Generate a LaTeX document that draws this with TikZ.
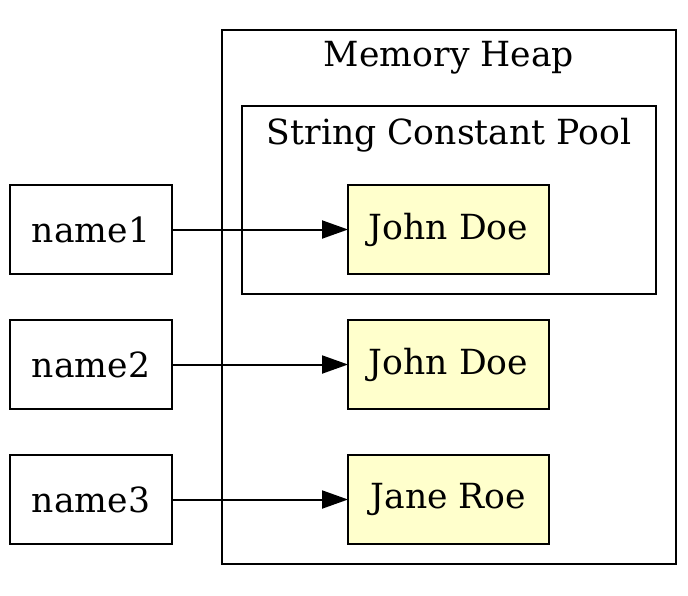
\documentclass[tikz,border=0pt]{standalone}
\usepackage{fontspec}
\setmainfont{DejaVu Serif}
\usetikzlibrary{arrows.meta}
\definecolor{poolyellow}{HTML}{FFFFCC}

\begin{document}
\begin{tikzpicture}[x=0.5pt,y=-0.5pt]
  \tikzset{VarStyle/.style = {
    shape         = rectangle,
    draw          = black,
    fill          = white,
    line width    = 1pt,
    text          = black,
    inner sep     = 0pt,
    outer sep     = 0pt,
    minimum width = 81pt,
    minimum height= 44.5pt,
    font          = \fontsize{17.3}{20}\selectfont
    }
  }
  \tikzset{StringStyle/.style = {
    VarStyle,
    fill          = poolyellow,
    minimum width = 100.5pt
    }
  }
  \tikzset{ClusterStyle/.style = {
    shape         = rectangle,
    draw          = black,
    line width    = 1pt,
    inner sep     = 0pt,
    outer sep     = 0pt
    }
  }
  \tikzset{ClusterLabelStyle/.style = {
    inner sep     = 0pt,
    font          = \fontsize{17.3}{20}\selectfont
    }
  }
  \tikzset{RefStyle/.style = {
    draw          = black,
    line width    = 1pt,
    -{Triangle[length=13pt,width=9pt]}
    }
  }

  \useasboundingbox (0,0) rectangle (688,595);

  % clusters
  \node[ClusterStyle, minimum width=227pt, minimum height=267pt](Heap) at (449, 297) {};
  \node[ClusterLabelStyle](HeapLabel) at (449, 58) {Memory Heap};
  \node[ClusterStyle, minimum width=207pt, minimum height=94pt](Pool) at (449, 200) {};
  \node[ClusterLabelStyle](PoolLabel) at (449, 135) {String Constant Pool};

  % variables
  \node[VarStyle](N1) at (91, 229.5) {name1};
  \node[VarStyle](N2) at (91, 364.5) {name2};
  \node[VarStyle](N3) at (91, 499.5) {name3};

  % string objects
  \node[StringStyle](S1) at (448.5, 229.5) {John Doe};
  \node[StringStyle](S2) at (448.5, 364.5) {John Doe};
  \node[StringStyle](S3) at (448.5, 499.5) {Jane Roe};

  \draw[RefStyle](N1) -- (S1);
  \draw[RefStyle](N2) -- (S2);
  \draw[RefStyle](N3) -- (S3);

\end{tikzpicture}
\end{document}
